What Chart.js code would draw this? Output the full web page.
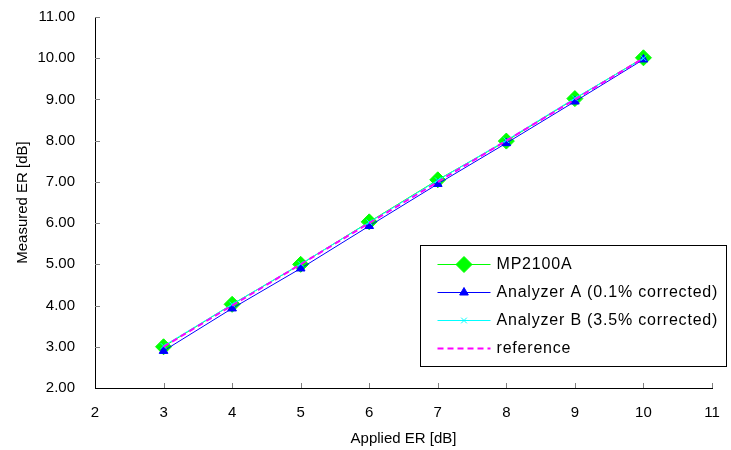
<!DOCTYPE html>
<html>
<head>
<meta charset="utf-8">
<script src="https://cdn.jsdelivr.net/npm/chart.js@4/dist/chart.umd.min.js"></script>
<style>
html, body { margin: 0; padding: 0; background: #fff; }
#wrap { width: 731px; height: 450px; }
</style>
</head>
<body>
<div id="wrap"><canvas id="erChart" width="731" height="450"></canvas></div>
<script>
"use strict";

var appliedER = [3, 4, 5, 6, 7, 8, 9, 10];
var mp2100a = [3.00, 4.03, 5.00, 6.03, 7.05, 7.99, 9.02, 10.01];
var analyzerA = [2.90, 3.93, 4.90, 5.93, 6.95, 7.94, 8.95, 9.97];
var analyzerB = [3.02, 4.03, 5.01, 6.02, 7.04, 8.01, 9.03, 10.00];
var reference = [3, 4, 5, 6, 7, 8, 9, 10];
var legendNames = ["MP2100A", "Analyzer A (0.1% corrected)", "Analyzer B (3.5% corrected)", "reference"];

function toPoints(ys) {
    return appliedER.map(function(x, i) { return { x: x, y: ys[i] }; });
}

var fontFamily = "'Liberation Sans', Arial, sans-serif";

// tick marks drawn inward, plus legend box inside the plot
var innerTicks = {
    id: "innerTicks",
    afterDraw: function(chart) {
        var ctx = chart.ctx;
        var xs = chart.scales.x, ys = chart.scales.y;
        ctx.save();
        ctx.strokeStyle = "#808080";
        ctx.lineWidth = 1;
        for (var v = 3; v <= 11; v++) {
            var px = Math.round(xs.getPixelForValue(v)) + 0.5;
            ctx.beginPath();
            ctx.moveTo(px, ys.bottom);
            ctx.lineTo(px, ys.bottom - 5);
            ctx.stroke();
        }
        for (var w = 3; w <= 11; w++) {
            var py = Math.round(ys.getPixelForValue(w)) + 0.5;
            ctx.beginPath();
            ctx.moveTo(xs.left, py);
            ctx.lineTo(xs.left + 5, py);
            ctx.stroke();
        }

        // legend
        var bx = 420.5, by = 245.5, bw = 306, bh = 121;
        ctx.fillStyle = "#fff";
        ctx.fillRect(bx, by, bw, bh);
        ctx.strokeStyle = "#000";
        ctx.strokeRect(bx, by, bw, bh);
        ctx.font = "16px " + fontFamily;
        ctx.letterSpacing = "0.8px";
        ctx.textBaseline = "middle";
        var rows = [264, 292, 320, 348];
        var lx1 = bx + 17, lx2 = bx + 70, mx = (lx1 + lx2) / 2;
        chart.data.datasets.forEach(function(ds, i) {
            var ry = rows[i] + 0.5;
            ctx.strokeStyle = ds.borderColor;
            ctx.lineWidth = ds.borderWidth;
            ctx.setLineDash(ds.borderDash || []);
            ctx.beginPath();
            ctx.moveTo(lx1, ry);
            ctx.lineTo(lx2, ry);
            ctx.stroke();
            ctx.setLineDash([]);
            if (ds.pointRadius > 0) {
                ctx.fillStyle = ds.pointBackgroundColor;
                ctx.strokeStyle = ds.pointBorderColor;
                ctx.lineWidth = 1;
                Chart.helpers.drawPoint(ctx, {
                    pointStyle: ds.pointStyle,
                    radius: ds.pointRadius,
                    borderWidth: 1,
                    rotation: 0
                }, mx, ry);
            }
            ctx.fillStyle = "#000";
            ctx.fillText(legendNames[i], bx + 76, rows[i] + 1);
        });
        ctx.restore();
    }
};

new Chart(document.getElementById("erChart"), {
    type: "scatter",
    data: {
        datasets: [{
            label: legendNames[0],
            data: toPoints(mp2100a),
            showLine: true,
            borderColor: "#00ff00",
            borderWidth: 1,
            pointStyle: "rectRot",
            pointRadius: 8,
            pointBackgroundColor: "#00ff00",
            pointBorderColor: "#00ff00",
            order: 4
        }, {
            label: legendNames[1],
            data: toPoints(analyzerA),
            showLine: true,
            borderColor: "#0000ff",
            borderWidth: 1,
            pointStyle: "triangle",
            pointRadius: 5,
            pointBackgroundColor: "#0000ff",
            pointBorderColor: "#0000ff",
            order: 3
        }, {
            label: legendNames[2],
            data: toPoints(analyzerB),
            showLine: true,
            borderColor: "#00ffff",
            borderWidth: 1,
            pointStyle: "crossRot",
            pointRadius: 4,
            pointBackgroundColor: "#00ffff",
            pointBorderColor: "#00ffff",
            order: 2
        }, {
            label: legendNames[3],
            data: toPoints(reference),
            showLine: true,
            borderColor: "#ff00ff",
            borderWidth: 2,
            borderDash: [6, 4],
            pointRadius: 0,
            order: 1
        }]
    },
    options: {
        responsive: false,
        animation: false,
        layout: { padding: { top: 17, right: 19, bottom: 0, left: 14 } },
        scales: {
            x: {
                type: "linear",
                min: 2,
                max: 11,
                afterFit: function(scale) {
                    scale.paddingLeft = 0;
                    scale.paddingRight = 0;
                },
                ticks: {
                    stepSize: 1,
                    color: "#000",
                    padding: 16,
                    font: { family: fontFamily, size: 15 }
                },
                grid: { display: false, drawTicks: false },
                border: { color: "#000", width: 1 },
                title: {
                    display: true,
                    text: "Applied ER [dB]",
                    color: "#000",
                    padding: { top: -8, bottom: 2 },
                    font: { family: fontFamily, size: 15 }
                }
            },
            y: {
                type: "linear",
                min: 2,
                max: 11,
                afterFit: function(scale) {
                    scale.width = 81;
                    scale.paddingTop = 0;
                    scale.paddingBottom = 0;
                },
                ticks: {
                    stepSize: 1,
                    color: "#000",
                    padding: 20,
                    font: { family: fontFamily, size: 15 },
                    callback: function(v) { return v.toFixed(2); }
                },
                grid: { display: false, drawTicks: false },
                border: { color: "#000", width: 1 },
                title: {
                    display: true,
                    text: "Measured ER [dB]",
                    color: "#000",
                    padding: { top: 0, bottom: 0 },
                    font: { family: fontFamily, size: 15 }
                }
            }
        },
        plugins: {
            legend: { display: false },
            tooltip: { enabled: false }
        }
    },
    plugins: [innerTicks]
});
</script>
</body>
</html>
